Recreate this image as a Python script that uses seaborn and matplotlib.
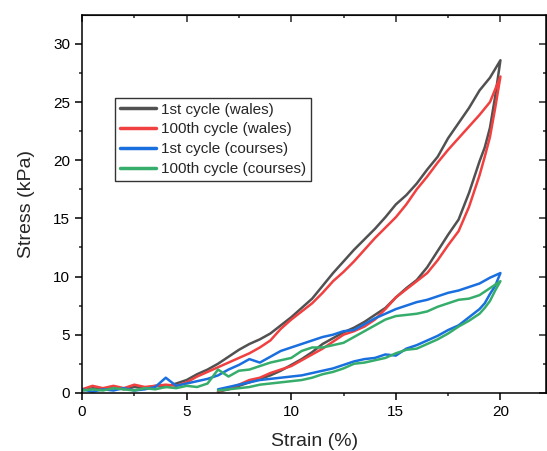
import matplotlib
matplotlib.use("Agg")
import matplotlib.pyplot as plt
import numpy as np
import pandas as pd
import seaborn as sns

# loading branch strain values (shared) and unloading strain values
strain_up = [0, 0.5, 1, 1.5, 2, 2.5, 3, 3.5, 4, 4.5, 5, 5.5, 6, 6.5, 7, 7.5, 8, 8.5, 9, 9.5,
             10, 10.5, 11, 11.5, 12, 12.5, 13, 13.5, 14, 14.5, 15, 15.5, 16, 16.5, 17, 17.5,
             18, 18.5, 19, 19.5, 20]
strain_down = [20, 19.75, 19.5, 19.25, 19, 18.5, 18, 17.5, 17, 16.5, 16, 15.5, 15, 14.5, 14,
               13.5, 13, 12.5, 12, 11.5, 11, 10.5, 10, 9.5, 9, 8.5, 8, 7.5, 7, 6.5]

# 1st cycle (wales)
wales1_up = [0.2, 0.4, 0.3, 0.5, 0.3, 0.5, 0.4, 0.6, 0.5, 0.8, 1.1, 1.6, 2.0, 2.5, 3.1, 3.7,
             4.2, 4.6, 5.1, 5.8, 6.5, 7.3, 8.1, 9.2, 10.3, 11.3, 12.3, 13.2, 14.1, 15.1, 16.2,
             17.0, 18.0, 19.2, 20.3, 21.9, 23.2, 24.5, 26.0, 27.1, 28.6]
wales1_down = [28.6, 25.5, 22.8, 21.1, 19.9, 17.2, 14.9, 13.6, 12.2, 10.8, 9.7, 9.0, 8.2, 7.3,
               6.7, 6.1, 5.6, 5.2, 4.7, 4.2, 3.5, 2.9, 2.4, 1.9, 1.5, 1.2, 0.9, 0.6, 0.3, 0.1]

# 100th cycle (wales)
wales100_up = [0.3, 0.6, 0.4, 0.6, 0.4, 0.7, 0.5, 0.6, 0.7, 0.6, 0.9, 1.4, 1.8, 2.2, 2.6, 3.0,
               3.4, 3.9, 4.5, 5.5, 6.3, 7.0, 7.7, 8.6, 9.6, 10.4, 11.3, 12.3, 13.3, 14.2, 15.1,
               16.2, 17.5, 18.6, 19.8, 20.9, 21.9, 22.9, 23.9, 25.0, 27.2]
wales100_down = [27.2, 24.5, 22.0, 20.3, 18.7, 16.0, 13.9, 12.7, 11.4, 10.3, 9.6, 8.9, 8.2, 7.2,
                 6.3, 5.7, 5.3, 5.0, 4.4, 3.8, 3.3, 2.8, 2.3, 2.0, 1.7, 1.3, 1.1, 0.7, 0.4, 0.1]

# 1st cycle (courses)
courses1_up = [0.3, 0.1, 0.3, 0.2, 0.4, 0.2, 0.3, 0.5, 1.3, 0.6, 0.8, 1.0, 1.2, 1.5, 2.0, 2.4,
               2.9, 2.6, 3.1, 3.6, 3.9, 4.2, 4.5, 4.8, 5.0, 5.3, 5.4, 5.9, 6.4, 6.8, 7.2, 7.5,
               7.8, 8.0, 8.3, 8.6, 8.8, 9.1, 9.4, 9.9, 10.3]
courses1_down = [10.3, 9.2, 8.5, 7.7, 7.2, 6.5, 5.8, 5.4, 4.9, 4.5, 4.1, 3.8, 3.2, 3.3, 3.0,
                 2.9, 2.7, 2.4, 2.1, 1.9, 1.7, 1.5, 1.4, 1.3, 1.2, 1.1, 0.9, 0.7, 0.5, 0.3]

# 100th cycle (courses)
courses100_up = [0.2, 0.3, 0.2, 0.4, 0.3, 0.2, 0.4, 0.3, 0.5, 0.4, 0.6, 0.5, 0.8, 2.0, 1.4, 1.9,
                 2.0, 2.3, 2.6, 2.8, 3.0, 3.6, 3.9, 3.9, 4.1, 4.3, 4.8, 5.3, 5.8, 6.3, 6.6, 6.7,
                 6.8, 7.0, 7.4, 7.7, 8.0, 8.1, 8.4, 9.0, 9.6]
courses100_down = [9.6, 8.8, 7.9, 7.3, 6.8, 6.2, 5.7, 5.1, 4.6, 4.2, 3.8, 3.7, 3.4, 3.0, 2.8,
                   2.6, 2.5, 2.1, 1.8, 1.6, 1.3, 1.1, 1.0, 0.9, 0.8, 0.7, 0.5, 0.4, 0.3, 0.2]

labels = ["1st cycle (wales)", "100th cycle (wales)", "1st cycle (courses)", "100th cycle (courses)"]
colors = ["#515151", "#F14040", "#1A6FDF", "#37AD6B"]
series = [(wales1_up, wales1_down), (wales100_up, wales100_down),
          (courses1_up, courses1_down), (courses100_up, courses100_down)]

sns.set_style("ticks")
plt.rcParams["font.family"] = ["Liberation Sans", "DejaVu Sans"]

fig = plt.figure(figsize=(5.47, 4.51), dpi=100)
ax = fig.add_axes([0.15, 0.129, 0.849, 0.838])

for (up, down), lab, col in zip(series, labels, colors):
    df = pd.DataFrame({"Strain": strain_up + strain_down, "Stress": up + down})
    sns.lineplot(data=df, x="Strain", y="Stress", sort=False, estimator=None,
                 color=col, linewidth=1.8, label=lab, ax=ax)

ax.set_xlim(0, 22.2)
ax.set_ylim(0, 32.5)
ax.set_xticks([0, 5, 10, 15, 20])
ax.set_yticks([0, 5, 10, 15, 20, 25, 30])
ax.set_xticks(np.arange(0, 22.5, 2.5), minor=True)
ax.set_yticks(np.arange(0, 32.5, 2.5), minor=True)
for s in ax.spines.values():
    s.set_visible(True)
    s.set_linewidth(1.1)
    s.set_color("black")
ax.tick_params(axis="both", which="major", direction="out", length=5, width=1.1,
               labelsize=11, colors="black")
ax.tick_params(axis="both", which="minor", direction="out", length=2.5, width=1.1)

# inward ticks on the mirrored axes
ax2 = ax.secondary_xaxis("top")
ax2.set_xticks([0, 5, 10, 15, 20])
ax2.set_xticks(np.arange(0, 22.5, 2.5), minor=True)
ax2.tick_params(which="major", direction="in", length=5, width=1.1, labeltop=False)
ax2.tick_params(which="minor", direction="in", length=2.5, width=1.1)
ax3 = ax.secondary_yaxis("right")
ax3.set_yticks([0, 5, 10, 15, 20, 25, 30])
ax3.set_yticks(np.arange(0, 32.5, 2.5), minor=True)
ax3.tick_params(which="major", direction="in", length=5, width=1.1, labelright=False)
ax3.tick_params(which="minor", direction="in", length=2.5, width=1.1)

ax.set_xlabel("Strain (%)", fontsize=14, labelpad=10)
ax.set_ylabel("Stress (kPa)", fontsize=14, labelpad=13)

leg = ax.legend(loc="upper left", bbox_to_anchor=(0.072, 0.78), borderaxespad=0,
                fontsize=11, frameon=True, fancybox=False, handlelength=2.35,
                labelspacing=0.38, borderpad=0.3, handletextpad=0.33)
leg.get_frame().set_edgecolor("black")
leg.get_frame().set_linewidth(1.0)
for line in leg.get_lines():
    line.set_linewidth(2.5)

fig.savefig("out.png", dpi=100)
